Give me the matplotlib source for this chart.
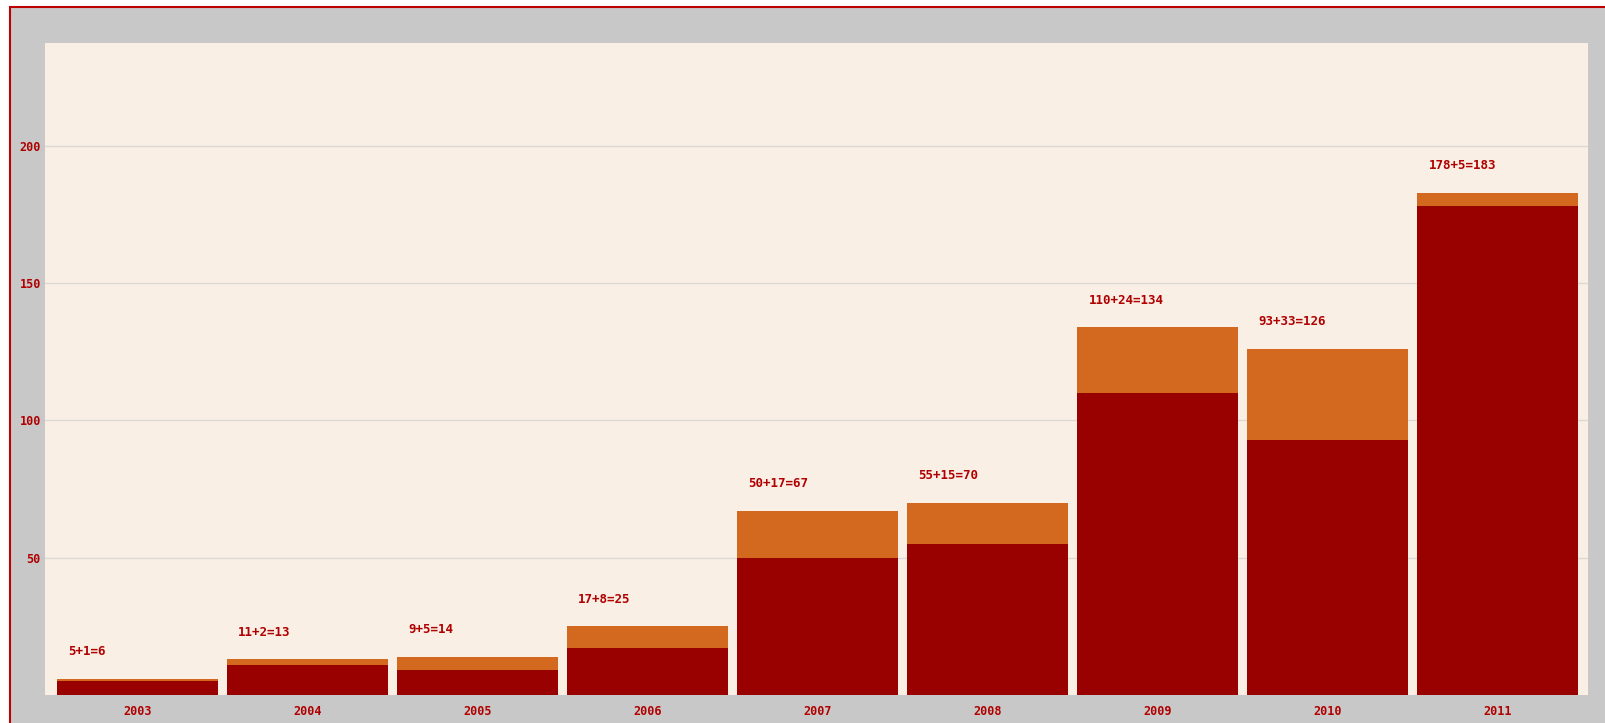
import matplotlib
matplotlib.use("Agg")
import matplotlib.pyplot as plt
from matplotlib.patches import Rectangle

years = ["2003", "2004", "2005", "2006", "2007", "2008", "2009", "2010", "2011"]
base = [5, 11, 9, 17, 50, 55, 110, 93, 178]
extra = [1, 2, 5, 8, 17, 15, 24, 33, 5]
yticks = [50, 100, 150, 200]

dark = "#990000"
orange = "#d2691e"
txt = "#b00000"
font = dict(family="DejaVu Sans Mono", weight="bold")

W, H = 1605, 723
fig = plt.figure(figsize=(W / 100, H / 100), dpi=100, facecolor="white")

# gray frame with red border on the top and left
fig.patches.append(Rectangle((10 / W, -0.01), 1.02, (H - 7) / H + 0.01,
                             transform=fig.transFigure, facecolor="#c8c8c8",
                             edgecolor="#bb0000", linewidth=1.5, zorder=-5))

ax = fig.add_axes([45 / W, 28 / H, 1543 / W, 652 / H])
ax.set_facecolor("#f9efe5")
for s in ax.spines.values():
    s.set_visible(False)

x = list(range(len(years)))
width = 0.947
ax.bar(x, base, width=width, color=dark, zorder=2)
ax.bar(x, extra, width=width, bottom=base, color=orange, zorder=2)

for i in x:
    total = base[i] + extra[i]
    ax.annotate(f"{base[i]}+{extra[i]}={total}", xy=(i - width / 2, total),
                xytext=(8, 17), textcoords="offset points",
                color=txt, fontsize=9, **font)

ax.set_xlim(-0.545, 8.53)
ax.set_ylim(0, 237.5)
ax.set_yticks(yticks)
ax.set_xticks(x)
ax.set_xticklabels(years)
ax.grid(axis="y", color="#dcd8d4", linewidth=1, zorder=1)
ax.tick_params(length=0, pad=7, colors=txt, labelsize=8.5)
for lab in ax.get_xticklabels() + ax.get_yticklabels():
    lab.set_family(font["family"])
    lab.set_weight("bold")
ax.tick_params(axis="y", pad=3)

fig.savefig("out.png", dpi=100)
